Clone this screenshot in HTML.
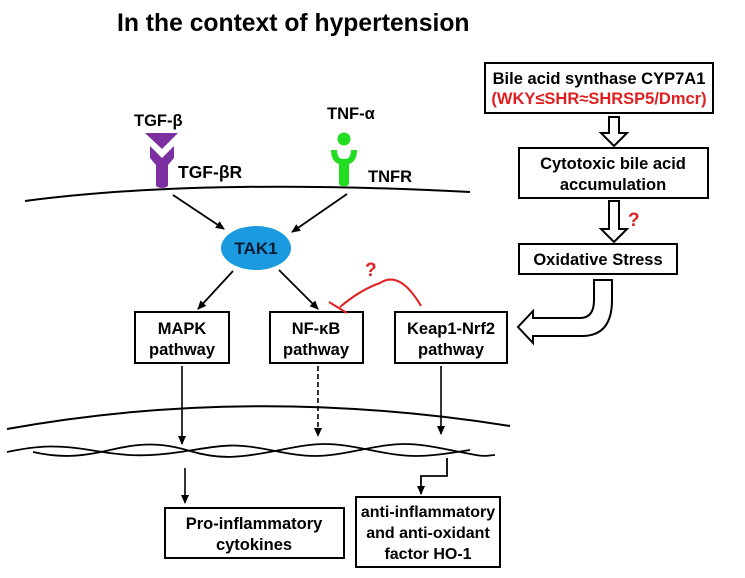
<!DOCTYPE html>
<html><head><meta charset="utf-8"><style>
html,body{margin:0;padding:0;background:#fff;}
svg{display:block;font-family:"Liberation Sans",Arial,sans-serif;font-weight:bold;}
</style></head><body>
<svg width="745" height="578" viewBox="0 0 745 578" xmlns="http://www.w3.org/2000/svg">
<defs>
<marker id="ah" markerWidth="10" markerHeight="10" refX="8" refY="4" orient="auto" markerUnits="userSpaceOnUse"><path d="M0,0 L9,4 L0,8 Z" fill="#000"/></marker>
</defs>
<text x="117" y="31" font-size="24.7" fill="#000">In the context of hypertension</text>

<path d="M25,201 Q200,178 470,192" fill="none" stroke="#000" stroke-width="2"/>

<text x="134" y="126" font-size="16.5">TGF-β</text>
<polygon points="145,133 178,133 162,149" fill="#7b2fa0"/>
<polygon points="150,146 162,158 174,146 174,158 168,165 168,185 156,185 156,165 150,158" fill="#7b2fa0"/>
<ellipse cx="162" cy="185" rx="6" ry="3" fill="#7b2fa0"/>
<text x="178" y="178" font-size="17.5">TGF-βR</text>

<text x="327" y="119" font-size="16.5">TNF-α</text>
<circle cx="344" cy="139" r="6.5" fill="#22dd22"/>
<path d="M334,150 Q334,162 344,162 Q354,162 354,150" fill="none" stroke="#22dd22" stroke-width="6"/>
<rect x="339" y="160" width="10" height="26" rx="3" fill="#22dd22"/>
<text x="368" y="182" font-size="16.5">TNFR</text>

<line x1="173" y1="195" x2="224" y2="229" stroke="#000" stroke-width="1.8" marker-end="url(#ah)"/>
<line x1="347" y1="194" x2="292" y2="232" stroke="#000" stroke-width="1.8" marker-end="url(#ah)"/>
<ellipse cx="256" cy="248" rx="35" ry="22" fill="#1b9ae0"/>
<text x="256" y="254" font-size="17" text-anchor="middle" fill="#0a1a30">TAK1</text>
<line x1="233" y1="271" x2="198" y2="309" stroke="#000" stroke-width="1.8" marker-end="url(#ah)"/>
<line x1="279" y1="270" x2="318" y2="309" stroke="#000" stroke-width="1.8" marker-end="url(#ah)"/>

<rect x="135" y="312" width="94" height="51" fill="#fff" stroke="#000" stroke-width="2"/>
<text x="182" y="334" font-size="16.5" text-anchor="middle">MAPK</text>
<text x="182" y="355" font-size="16.5" text-anchor="middle">pathway</text>
<rect x="270" y="312" width="93" height="51" fill="#fff" stroke="#000" stroke-width="2"/>
<text x="316" y="334" font-size="16.5" text-anchor="middle">NF-κB</text>
<text x="316" y="355" font-size="16.5" text-anchor="middle">pathway</text>
<rect x="395" y="312" width="112" height="51" fill="#fff" stroke="#000" stroke-width="2"/>
<text x="451" y="334" font-size="16.5" text-anchor="middle">Keap1-Nrf2</text>
<text x="451" y="355" font-size="16.5" text-anchor="middle">pathway</text>

<path d="M421,306 Q400,270 380,283 Q360,290 340,307" fill="none" stroke="#e02020" stroke-width="2"/>
<line x1="329" y1="302" x2="347" y2="313" stroke="#e02020" stroke-width="2"/>
<text x="365" y="276" font-size="19" fill="#e02020">?</text>

<rect x="485" y="63" width="228" height="50" fill="#fff" stroke="#000" stroke-width="2"/>
<text x="599" y="84" font-size="16.5" text-anchor="middle">Bile acid synthase CYP7A1</text>
<text x="599" y="104" font-size="16.5" text-anchor="middle" fill="#e02020">(WKY≤SHR≈SHRSP5/Dmcr)</text>
<polygon points="609,117 619,117 619,133 627,133 614,146 601,133 609,133" fill="#fff" stroke="#000" stroke-width="2"/>
<rect x="519" y="148" width="189" height="50" fill="#fff" stroke="#000" stroke-width="2"/>
<text x="613" y="169" font-size="16.5" text-anchor="middle">Cytotoxic bile acid</text>
<text x="613" y="190" font-size="16.5" text-anchor="middle">accumulation</text>
<polygon points="609,201 619,201 619,229 627,229 614,242 601,229 609,229" fill="#fff" stroke="#000" stroke-width="2"/>
<text x="628" y="226" font-size="19" fill="#e02020">?</text>
<rect x="519" y="244" width="158" height="30" fill="#fff" stroke="#000" stroke-width="2"/>
<text x="598" y="265" font-size="16.5" text-anchor="middle">Oxidative Stress</text>
<path d="M594,280 L612,280 L612,300 Q612,336 582,336 L533,336 L533,343 L518,327 L533,311 L533,318 L580,318 Q594,318 594,300 Z" fill="#fff" stroke="#000" stroke-width="2"/>

<path d="M7,429 Q250,385 510,426" fill="none" stroke="#000" stroke-width="2"/>
<path d="M7,452 C40,445 60,445 90,450 S140,458 180,452 S230,442 270,450 S320,458 360,450 S410,442 450,450 S480,456 495,455" fill="none" stroke="#000" stroke-width="1.8"/>
<path d="M33,452 C60,458 80,457 110,450 S160,442 190,451 S240,458 280,450 S330,442 370,450 S420,458 470,450" fill="none" stroke="#000" stroke-width="1.8"/>

<line x1="182" y1="366" x2="182" y2="444" stroke="#000" stroke-width="1.6" marker-end="url(#ah)"/>
<line x1="318" y1="366" x2="318" y2="436" stroke="#000" stroke-width="1.6" stroke-dasharray="5,3" marker-end="url(#ah)"/>
<line x1="441" y1="366" x2="441" y2="434" stroke="#000" stroke-width="1.6" marker-end="url(#ah)"/>
<line x1="185" y1="468" x2="185" y2="503" stroke="#000" stroke-width="1.6" marker-end="url(#ah)"/>
<polyline points="447,458 447,476 421,476 421,494" fill="none" stroke="#000" stroke-width="1.8" marker-end="url(#ah)"/>

<rect x="165" y="508" width="179" height="50" fill="#fff" stroke="#000" stroke-width="2"/>
<text x="254" y="529" font-size="16.5" text-anchor="middle">Pro-inflammatory</text>
<text x="254" y="550" font-size="16.5" text-anchor="middle">cytokines</text>
<rect x="356" y="497" width="144" height="70" fill="#fff" stroke="#000" stroke-width="2"/>
<text x="428" y="517" font-size="16" text-anchor="middle">anti-inflammatory</text>
<text x="428" y="538" font-size="16" text-anchor="middle">and anti-oxidant</text>
<text x="428" y="559" font-size="16" text-anchor="middle">factor HO-1</text>
</svg>
</body></html>
